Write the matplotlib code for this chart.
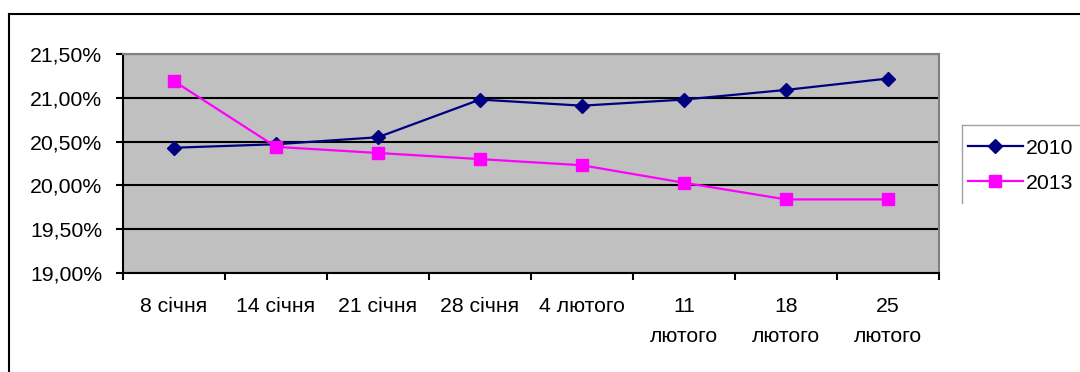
import matplotlib
matplotlib.use("Agg")
import matplotlib.pyplot as plt
from matplotlib.ticker import FuncFormatter, FixedLocator
from matplotlib.lines import Line2D

categories = ["8 січня", "14 січня", "21 січня", "28 січня", "4 лютого",
              "11\nлютого", "18\nлютого", "25\nлютого"]
series_2010 = [20.43, 20.47, 20.55, 20.98, 20.91, 20.98, 21.09, 21.22]
series_2013 = [21.19, 20.44, 20.37, 20.30, 20.23, 20.03, 19.84, 19.84]
series_names = ["2010", "2013"]
y_ticks = [19.0, 19.5, 20.0, 20.5, 21.0, 21.5]

plt.rcParams['font.family'] = ['Liberation Sans', 'DejaVu Sans']
FS = 15.3

W, H = 1080, 372
fig = plt.figure(figsize=(W / 100, H / 100), dpi=100)
fig.patch.set_facecolor("white")

ax = fig.add_axes([123 / W, 1 - 273 / H, (939 - 123) / W, (273 - 54) / H])
ax.set_facecolor("#C0C0C0")

x = list(range(len(categories)))
ax.plot(x, series_2010, color="#000080", lw=1.6, marker="D", ms=7.5,
        mfc="#000080", mec="#000080", label=series_names[0], zorder=3)
ax.plot(x, series_2013, color="#FF00FF", lw=1.6, marker="s", ms=8.5,
        mfc="#FF00FF", mec="#FF00FF", label=series_names[1], zorder=3)

ax.set_xlim(-0.5, len(categories) - 0.5)
ax.set_ylim(y_ticks[0], y_ticks[-1])
ax.set_yticks(y_ticks)
ax.yaxis.set_major_formatter(FuncFormatter(lambda v, p: f"{v:.2f}%".replace(".", ",")))
ax.grid(axis="y", color="black", lw=1.5, zorder=1)
ax.set_axisbelow(True)

ax.set_xticks(x)
ax.set_xticklabels(categories, fontsize=FS, linespacing=1.75)
ax.xaxis.set_minor_locator(FixedLocator([i - 0.5 for i in range(len(categories) + 1)]))
ax.tick_params(axis="x", which="major", length=0, pad=17)
ax.tick_params(axis="x", which="minor", length=5, width=1.5, direction="out")
ax.tick_params(axis="y", length=5, width=1.5, direction="out", labelsize=FS, pad=10)

for s in ["top", "right"]:
    ax.spines[s].set_color("#808080")
    ax.spines[s].set_linewidth(1.5)
for s in ["left", "bottom"]:
    ax.spines[s].set_color("black")
    ax.spines[s].set_linewidth(1.5)

# outer chart frame (partially visible)
fx = 9 / W
fy = 1 - 14 / H
fig.add_artist(Line2D([fx, fx], [0, fy], transform=fig.transFigure, color="black", lw=1.5))
fig.add_artist(Line2D([fx, 1], [fy, fy], transform=fig.transFigure, color="black", lw=1.5))

# legend
leg = fig.legend(loc="upper left", bbox_to_anchor=(957 / W, 1 - 128 / H),
                 frameon=False, fontsize=FS, handlelength=2.6,
                 handletextpad=0.15, labelspacing=0.75, borderaxespad=0,
                 borderpad=0.5)
lx = 962 / W
fig.add_artist(Line2D([lx, lx], [1 - 203 / H, 1 - 125 / H], transform=fig.transFigure,
                      color="#A0A0A0", lw=1))
fig.add_artist(Line2D([lx, 1], [1 - 125 / H, 1 - 125 / H], transform=fig.transFigure,
                      color="#A0A0A0", lw=1))

fig.savefig("out.png", dpi=100)
